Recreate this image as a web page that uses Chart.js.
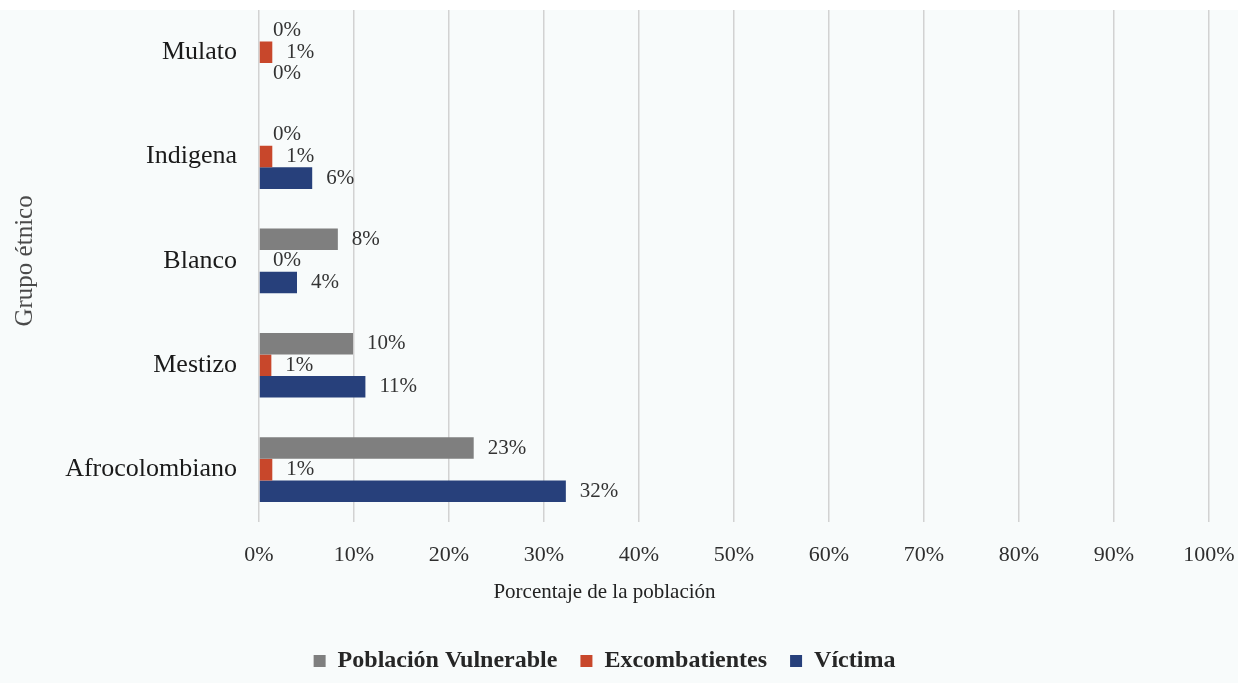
<!DOCTYPE html>
<html>
<head>
<meta charset="utf-8">
<script src="https://cdn.jsdelivr.net/npm/chart.js@4/dist/chart.umd.min.js"></script>
<style>
  html, body { margin: 0; padding: 0; background: #ffffff; }
  #wrap { width: 1238px; height: 683px; position: relative; }
</style>
</head>
<body>
<div id="wrap"><canvas id="myChart"></canvas></div>
<script>
const categories = ['Mulato', 'Indigena', 'Blanco', 'Mestizo', 'Afrocolombiano'];
const vulnerable = [0, 0, 8.3, 9.9, 22.6];
const excombatientes = [1.4, 1.4, 0, 1.3, 1.4];
const victima = [0, 5.6, 4.0, 11.2, 32.3];
const xTicks = [0, 10, 20, 30, 40, 50, 60, 70, 80, 90, 100];

const serif = "'Liberation Serif', 'Times New Roman', serif";

// fondo y etiquetas de valores
const paintPlugin = {
    id: 'paint',
    beforeDraw(chart) {
        const ctx = chart.ctx;
        ctx.save();
        ctx.fillStyle = '#f8fbfb';
        ctx.fillRect(0, 0, chart.width, chart.height);
        ctx.restore();
    },
    afterDatasetsDraw(chart) {
        const ctx = chart.ctx;
        ctx.save();
        ctx.font = '21px ' + serif;
        ctx.fillStyle = '#333333';
        ctx.textAlign = 'left';
        ctx.textBaseline = 'middle';
        chart.data.datasets.forEach((ds, i) => {
            const meta = chart.getDatasetMeta(i);
            meta.data.forEach((bar, j) => {
                ctx.fillText(Math.round(ds.data[j]) + '%', bar.x + 14, bar.y);
            });
        });
        ctx.restore();
    },
    afterDraw(chart) {
        const ctx = chart.ctx;
        ctx.save();
        ctx.fillStyle = '#ffffff';
        ctx.fillRect(0, 0, chart.width, 10);
        ctx.restore();
    }
};

const ctx = document.getElementById('myChart').getContext('2d');
const myChart = new Chart(ctx, {
    type: 'bar',
    data: {
        labels: categories,
        datasets: [{
            label: 'Población Vulnerable',
            data: vulnerable,
            backgroundColor: '#7f7f7f'
        }, {
            label: 'Excombatientes',
            data: excombatientes,
            backgroundColor: '#c8472b'
        }, {
            label: 'Víctima',
            data: victima,
            backgroundColor: '#27407b'
        }]
    },
    plugins: [paintPlugin],
    options: {
        indexAxis: 'y',
        responsive: true,
        maintainAspectRatio: false,
        animation: false,
        categoryPercentage: 0.62,
        barPercentage: 1,
        layout: {
            padding: { top: 0, right: 29, bottom: 0, left: 0 }
        },
        scales: {
            x: {
                min: 0,
                max: 100,
                afterBuildTicks: (scale) => {
                    scale.ticks = xTicks.map(v => ({ value: v }));
                },
                afterFit: (scale) => {
                    scale.height = 44;
                    scale.paddingLeft = 0;
                    scale.paddingRight = 0;
                },
                grid: { color: '#d2d2d2', lineWidth: 1.5, drawTicks: false },
                border: { display: false },
                ticks: {
                    padding: 20,
                    color: '#2e2e2e',
                    font: { family: serif, size: 22 },
                    callback: (v) => v + '%'
                }
            },
            y: {
                afterFit: (scale) => {
                    scale.width = 259;
                    scale.paddingTop = 0;
                    scale.paddingBottom = 0;
                },
                grid: { display: false, drawTicks: false },
                border: { display: false },
                ticks: {
                    padding: 22,
                    color: '#1a1a1a',
                    font: { family: serif, size: 26 }
                },
                title: {
                    display: true,
                    text: 'Grupo étnico',
                    color: '#4a4a4a',
                    font: { family: serif, size: 25, lineHeight: 1.2 },
                    padding: { top: 10, bottom: 0 }
                }
            }
        },
        plugins: {
            title: {
                display: true,
                position: 'bottom',
                weight: 500,
                text: 'Porcentaje de la población',
                color: '#222222',
                font: { family: serif, size: 21, weight: 'normal', lineHeight: 1.2 },
                padding: { top: 14, bottom: 21 }
            },
            legend: {
                position: 'bottom',
                labels: {
                    boxWidth: 12,
                    boxHeight: 12,
                    padding: 23,
                    color: '#262626',
                    font: { family: serif, size: 24, weight: 'bold' }
                }
            },
            tooltip: { enabled: false }
        }
    }
});
</script>
</body>
</html>
